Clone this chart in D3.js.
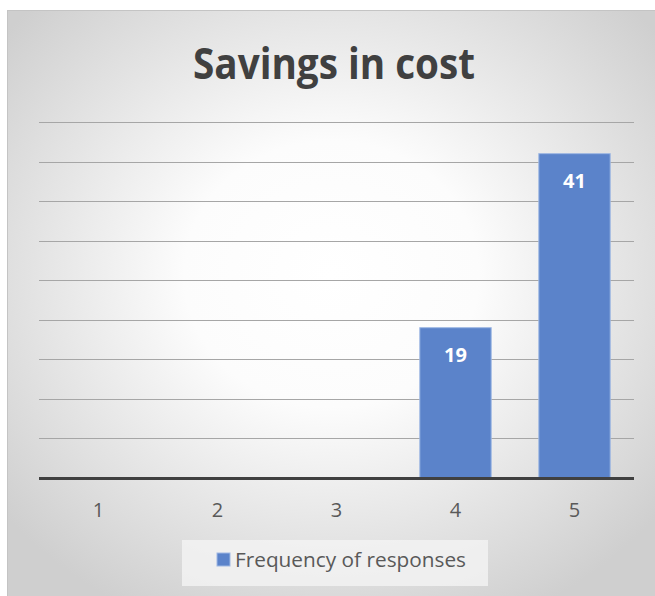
<!DOCTYPE html>
<html><head><meta charset="utf-8">
<script src="https://cdn.jsdelivr.net/npm/d3@7"></script>
<style>body{margin:0;background:#fff}svg{display:block}</style>
</head><body>
<script>
const categories = ["1","2","3","4","5"];
const values = [0,0,0,19,41];
const seriesName = "Frequency of responses";
const title = "Savings in cost";
const yTicks = [0,5,10,15,20,25,30,35,40,45];

const W = 655, H = 596;
const svg = d3.select("body").append("svg").attr("width", W).attr("height", H);
const defs = svg.append("defs");
const rg = defs.append("radialGradient").attr("id","bg")
  .attr("cx", 0.5).attr("cy", 0.45).attr("r", 0.65);
rg.append("stop").attr("offset","0%").attr("stop-color","#ffffff");
rg.append("stop").attr("offset","35%").attr("stop-color","#fcfcfc");
rg.append("stop").attr("offset","100%").attr("stop-color","#cfcfcf");

svg.append("rect").attr("x",7.5).attr("y",10.5).attr("width",W-7).attr("height",H-10)
  .attr("fill","url(#bg)").attr("stroke","#c4c4c4").attr("stroke-width",1);

svg.append("text").attr("x",193).attr("y",79)
  .attr("font-family","'Open Sans', sans-serif").attr("font-weight","bold")
  .attr("font-size",43).attr("fill","#404040")
  .attr("textLength",282).attr("lengthAdjust","spacingAndGlyphs").text(title);

const x = d3.scaleBand().domain(categories).range([39,634]).paddingInner(0.4).paddingOuter(0.2);
const y = d3.scaleLinear().domain([0,45]).range([478,122]);

const g = svg.append("g");
g.selectAll("line.grid").data(yTicks.filter(d=>d>0)).join("line")
  .attr("x1",39).attr("x2",634).attr("y1",d=>Math.round(y(d))+0.5).attr("y2",d=>Math.round(y(d))+0.5)
  .attr("stroke","#a6a6a6").attr("stroke-width",1.2);

g.selectAll("rect.bar").data(values).join("rect")
  .attr("x",(d,i)=>x(categories[i])).attr("width",x.bandwidth())
  .attr("y",d=>y(d)).attr("height",d=>y(0)-y(d))
  .attr("fill","#5b83ca").attr("fill-opacity",d=>d>0?1:0)
  .attr("stroke","#9fb8e3").attr("stroke-width",d=>d>0?1:0);

g.selectAll("text.lbl").data(values.map((v,i)=>({v,i})).filter(d=>d.v>0)).join("text")
  .attr("x",d=>x(categories[d.i])+x.bandwidth()/2).attr("y",d=>y(d.v)+34)
  .attr("text-anchor","middle").attr("font-family","'Open Sans', sans-serif")
  .attr("font-weight","bold").attr("font-size",20).attr("fill","#ffffff").text(d=>d.v);

const xAxis = d3.axisBottom(x).tickSize(0).tickPadding(0);
const ax = svg.append("g").attr("transform","translate(0,478)").call(xAxis);
ax.select(".domain").remove();
ax.selectAll("text").attr("dy",null).attr("y",39).attr("font-family","'Open Sans', sans-serif").attr("font-size",20).attr("fill","#595959");
svg.append("line").attr("x1",39).attr("x2",634).attr("y1",478.5).attr("y2",478.5)
  .attr("stroke","#404040").attr("stroke-width",3);

const lg = svg.append("g");
lg.append("rect").attr("x",182).attr("y",540).attr("width",306).attr("height",46).attr("fill","#f4f4f4").attr("fill-opacity",0.8);
lg.append("rect").attr("x",217).attr("y",553).attr("width",13).attr("height",13).attr("fill","#5b83ca").attr("stroke","#9fb8e3");
lg.append("text").attr("x",235).attr("y",567).attr("font-family","'Open Sans', sans-serif")
  .attr("font-size",20.5).attr("fill","#595959")
  .attr("textLength",231).attr("lengthAdjust","spacingAndGlyphs").text(seriesName);
</script>
</body></html>
